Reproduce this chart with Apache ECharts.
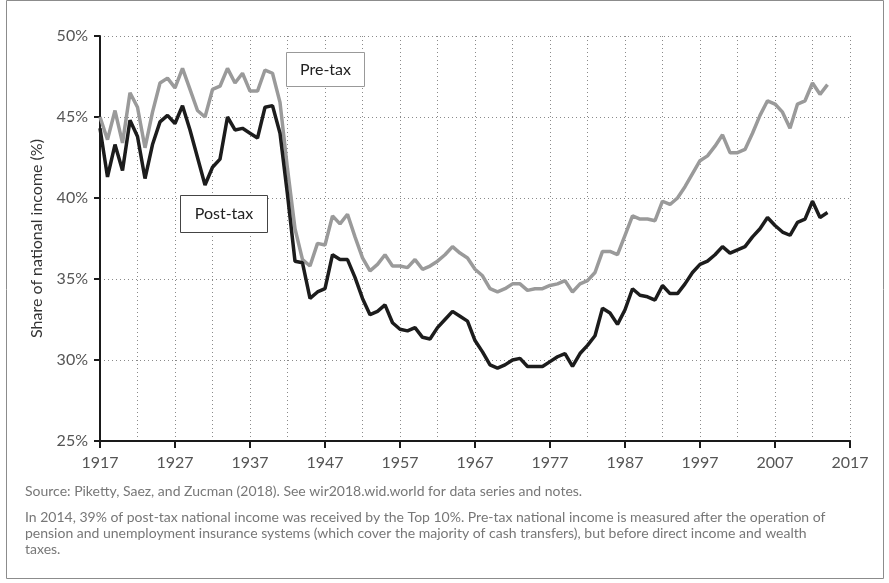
<!DOCTYPE html>
<html>
<head>
<meta charset="utf-8">
<script src="https://cdn.jsdelivr.net/npm/echarts@6/dist/echarts.min.js"></script>
<style>
html,body{margin:0;padding:0;background:#fff;}
#main{width:889px;height:583px;}
</style>
</head>
<body>
<div id="main"></div>
<script>
const startYear = 1917;
const preTax = [45.0,43.6,45.4,43.4,46.5,45.6,43.1,45.3,47.1,47.4,46.8,48.0,46.7,45.4,45.0,46.7,46.9,48.0,47.1,47.7,46.6,46.6,47.9,47.7,45.9,41.8,38.1,36.2,35.8,37.2,37.1,38.9,38.4,39.0,37.6,36.3,35.5,35.9,36.5,35.8,35.8,35.7,36.2,35.6,35.8,36.1,36.5,37.0,36.6,36.3,35.6,35.2,34.4,34.2,34.4,34.7,34.7,34.3,34.4,34.4,34.6,34.7,34.9,34.2,34.7,34.9,35.4,36.7,36.7,36.5,37.7,38.9,38.7,38.7,38.6,39.8,39.6,40.0,40.7,41.5,42.3,42.6,43.2,43.9,42.8,42.8,43.0,44.0,45.1,46.0,45.8,45.3,44.3,45.8,46.0,47.1,46.4,47.0];
const postTax = [44.3,41.3,43.3,41.7,44.8,43.8,41.2,43.3,44.7,45.1,44.6,45.7,44.2,42.5,40.8,41.9,42.4,45.0,44.2,44.3,44.0,43.7,45.6,45.7,44.0,40.2,36.1,36.0,33.8,34.2,34.4,36.5,36.2,36.2,35.1,33.8,32.8,33.0,33.4,32.3,31.9,31.8,32.0,31.4,31.3,32.0,32.5,33.0,32.7,32.4,31.2,30.5,29.7,29.5,29.7,30.0,30.1,29.6,29.6,29.6,29.9,30.2,30.4,29.6,30.4,30.9,31.5,33.2,32.9,32.2,33.1,34.4,34.0,33.9,33.7,34.6,34.1,34.1,34.7,35.4,35.9,36.1,36.5,37.0,36.6,36.8,37.0,37.6,38.1,38.8,38.3,37.9,37.7,38.5,38.7,39.8,38.8,39.1];
const xMin = 1917, xMax = 2017, xStep = 10;
const yMin = 25, yMax = 50, yStep = 5;
const yAxisTitle = 'Share of national income (%)';
const preLabel = 'Pre-tax';
const postLabel = 'Post-tax';
const sourceNote = 'Source: Piketty, Saez, and Zucman (2018). See wir2018.wid.world for data series and notes.';
const noteLines = [
  'In 2014, 39% of post-tax national income was received by the Top 10%. Pre-tax national income is measured after the operation of',
  'pension and unemployment insurance systems (which cover the majority of cash transfers), but before direct income and wealth',
  'taxes.'
];

const toPairs = arr => arr.map((v, i) => [startYear + i, v]);

const chart = echarts.init(document.getElementById('main'));
const FONT = 'Lato';
const dotted = {color: '#8a8a8a', width: 1, type: [1, 3]};

chart.setOption({
  animation: false,
  grid: {left: 100, right: 39, top: 36, bottom: 142, containLabel: false},
  xAxis: {
    type: 'value', min: xMin, max: xMax, interval: xStep,
    axisLine: {show: true, onZero: false, lineStyle: {color: '#1a1a1a', width: 2}},
    axisTick: {show: true, length: 7, lineStyle: {color: '#1a1a1a', width: 2}},
    axisLabel: {margin: 14, fontFamily: FONT, fontSize: 16, color: '#555', formatter: v => String(v)},
    splitLine: {show: true, lineStyle: dotted},
    minorTick: {show: false, splitNumber: 2},
    minorSplitLine: {show: true, lineStyle: dotted}
  },
  yAxis: {
    type: 'value', min: yMin, max: yMax, interval: yStep,
    name: yAxisTitle, nameLocation: 'middle', nameGap: 55,
    nameTextStyle: {fontFamily: FONT, fontSize: 16, color: '#333'},
    axisLine: {show: true, onZero: false, lineStyle: {color: '#1a1a1a', width: 2}},
    axisTick: {show: true, length: 6, lineStyle: {color: '#1a1a1a', width: 2}},
    axisLabel: {margin: 12, fontFamily: FONT, fontSize: 16, color: '#555', formatter: '{value}%'},
    splitLine: {show: true, lineStyle: dotted}
  },
  series: [
    {name: preLabel, type: 'line', data: toPairs(preTax), showSymbol: false, symbol: 'none',
     lineStyle: {color: '#9a9a9a', width: 3.5}, z: 3},
    {name: postLabel, type: 'line', data: toPairs(postTax), showSymbol: false, symbol: 'none',
     lineStyle: {color: '#1c1c1c', width: 3.5}, z: 4}
  ],
  graphic: [
    {type: 'rect', left: 4, top: -2, shape: {width: 877, height: 578}, style: {fill: 'none', stroke: '#8c8c8c', lineWidth: 1}, silent: true, z: 0},
    {type: 'rect', shape: {x: 286.5, y: 52.5, width: 78, height: 34}, style: {fill: '#fff', stroke: '#999', lineWidth: 1}, z: 10},
    {type: 'text', x: 325.5, y: 69.5, style: {text: preLabel, fontFamily: FONT, fontSize: 16, fill: '#222', align: 'center', verticalAlign: 'middle'}, z: 11},
    {type: 'rect', shape: {x: 180.5, y: 195.5, width: 87, height: 37}, style: {fill: '#fff', stroke: '#444', lineWidth: 1}, z: 10},
    {type: 'text', x: 224, y: 214, style: {text: postLabel, fontFamily: FONT, fontSize: 16, fill: '#222', align: 'center', verticalAlign: 'middle'}, z: 11},
    {type: 'text', x: 25, y: 491, style: {text: sourceNote, fontFamily: FONT, fontSize: 14, fill: '#777', verticalAlign: 'middle'}, z: 11},
    {type: 'text', x: 25, y: 509, style: {text: noteLines.join('\n'), fontFamily: FONT, fontSize: 14, lineHeight: 16, fill: '#777', verticalAlign: 'top'}, z: 11}
  ]
});
</script>
</body>
</html>
